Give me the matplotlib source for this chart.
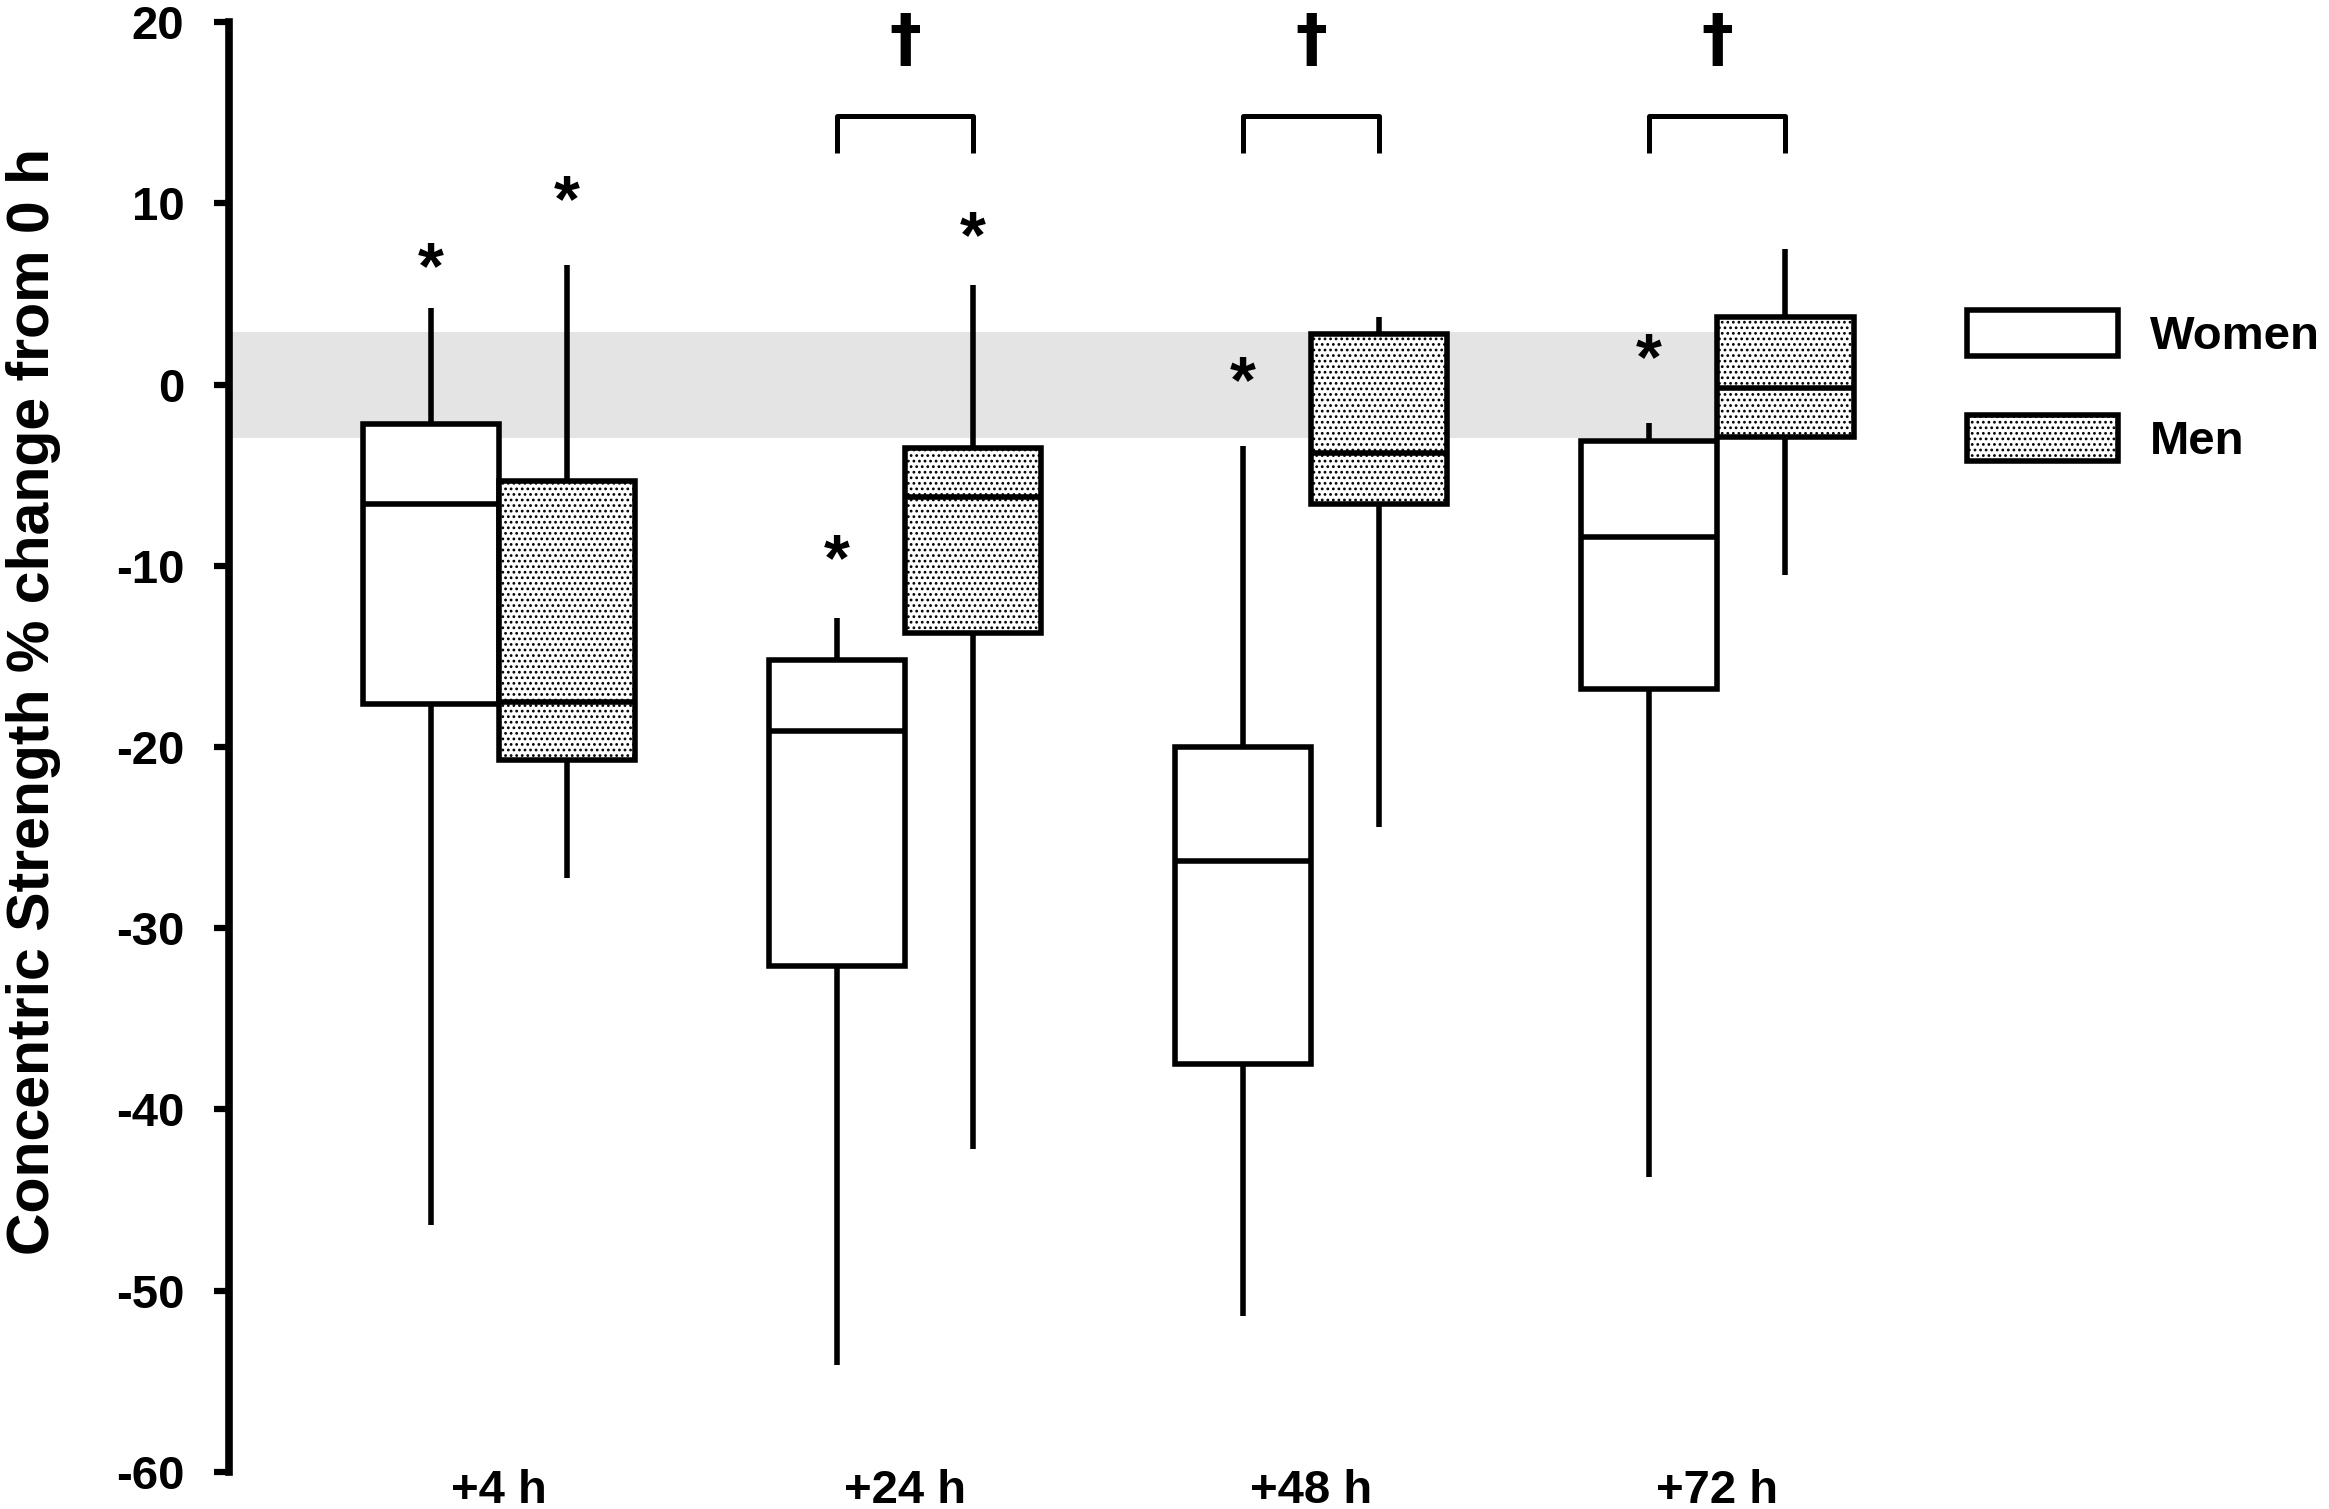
import matplotlib
matplotlib.use("Agg")
import matplotlib.pyplot as plt
from matplotlib.patches import Patch
from matplotlib.transforms import offset_copy

plt.rcParams['font.family'] = ['Liberation Sans', 'DejaVu Sans']
plt.rcParams['font.weight'] = 'bold'
plt.rcParams['hatch.linewidth'] = 1.2
plt.rcParams['axes.unicode_minus'] = False

# datos
tiempos = ["+4 h", "+24 h", "+48 h", "+72 h"]
# (whislo, q1, med, q3, whishi)
mujeres = [
    (-46.4, -17.6, -6.6, -2.2, 4.2),
    (-54.1, -32.1, -19.1, -15.2, -12.9),
    (-51.4, -37.5, -26.3, -20.0, -3.4),
    (-43.7, -16.8, -8.4, -3.1, -2.1),
]
hombres = [
    (-27.2, -20.7, -17.5, -5.3, 6.6),
    (-42.2, -13.7, -6.2, -3.5, 5.5),
    (-24.4, -6.6, -3.8, 2.8, 3.7),
    (-10.5, -2.9, -0.2, 3.7, 7.5),
]
estrella_mujeres = [7.4, -8.7, 1.1, 2.4]
estrella_hombres = [11.1, 9.1, None, None]
daga = [None, 18.9, 18.9, 18.9]
corchete_arriba = 14.8
corchete_abajo = 12.8
banda = (-2.95, 2.9)


def stats(valores):
    lo, q1, med, q3, hi = valores
    return {'whislo': lo, 'q1': q1, 'med': med, 'q3': q3, 'whishi': hi, 'fliers': []}


fig = plt.figure(figsize=(23.29, 15.09), dpi=100)
ax = fig.add_axes([0.0983, 0.02452, 0.9017, 0.9609])

pos = [1, 2, 3, 4]
dx = 0.168
ancho = 0.336
lw = 4.0

ax.axhspan(banda[0], banda[1], xmin=0, xmax=(4 + 2 * dx - 0.335) / (5.507 - 0.335),
           color='#e4e4e4', lw=0, zorder=0)

comun = dict(showcaps=False, showfliers=False, patch_artist=True, widths=ancho,
             whiskerprops=dict(color='black', lw=lw, solid_capstyle='butt'),
             medianprops=dict(color='black', lw=lw, solid_capstyle='butt'),
             manage_ticks=False)
ax.bxp([stats(v) for v in mujeres], positions=[p - dx for p in pos],
       boxprops=dict(facecolor='white', edgecolor='black', lw=lw), **comun)
ax.bxp([stats(v) for v in hombres], positions=[p + dx for p in pos],
       boxprops=dict(facecolor='white', edgecolor='black', lw=lw, hatch='...'), **comun)

# asteriscos
trans_star = offset_copy(ax.transData, fig=fig, y=-15, units='points')
for p, e in zip(pos, estrella_mujeres):
    if e is not None:
        ax.text(p - dx, e, "*", ha='center', va='center', fontsize=48,
                transform=trans_star)
for p, e in zip(pos, estrella_hombres):
    if e is not None:
        ax.text(p + dx, e, "*", ha='center', va='center', fontsize=48,
                transform=trans_star)

# corchetes y dagas
for p, d in zip(pos, daga):
    if d is None:
        continue
    ax.plot([p - dx, p - dx, p + dx, p + dx],
            [corchete_abajo, corchete_arriba, corchete_arriba, corchete_abajo],
            color='black', lw=3.6, solid_joinstyle='round', solid_capstyle='butt')
    ax.text(p, d, "\u2020", ha='center', va='center', fontsize=46,
            family='DejaVu Sans', fontweight='bold')

ax.set_xlim(0.335, 5.507)
ax.set_ylim(-60, 20)
ax.set_yticks(range(-60, 21, 10))
ax.set_xticks(pos)
ax.set_xticklabels(tiempos)
for s in ['top', 'right', 'bottom']:
    ax.spines[s].set_visible(False)
ax.spines['left'].set_linewidth(5.5)
ax.spines['left'].set_bounds(-60, 20)
ax.tick_params(axis='y', length=11, width=4.5, pad=21, labelsize=34)
ax.tick_params(axis='x', length=0, pad=-2, labelsize=34)

fig.text(34 / 2329, 0.5348, "Concentric Strength % change from 0 h",
         rotation=90, ha='center', va='center', fontsize=42.5)

handles = [Patch(facecolor='white', edgecolor='black', lw=lw, label='Women'),
           Patch(facecolor='white', edgecolor='black', lw=lw, hatch='...', label='Men')]
fig.legend(handles=handles, loc='upper left', bbox_to_anchor=(0.8446, 0.7945),
           frameon=False, fontsize=34, handlelength=3.2, handleheight=1.13,
           handletextpad=0.68, labelspacing=1.18, borderpad=0, borderaxespad=0)

fig.savefig("out.png", dpi=100)
